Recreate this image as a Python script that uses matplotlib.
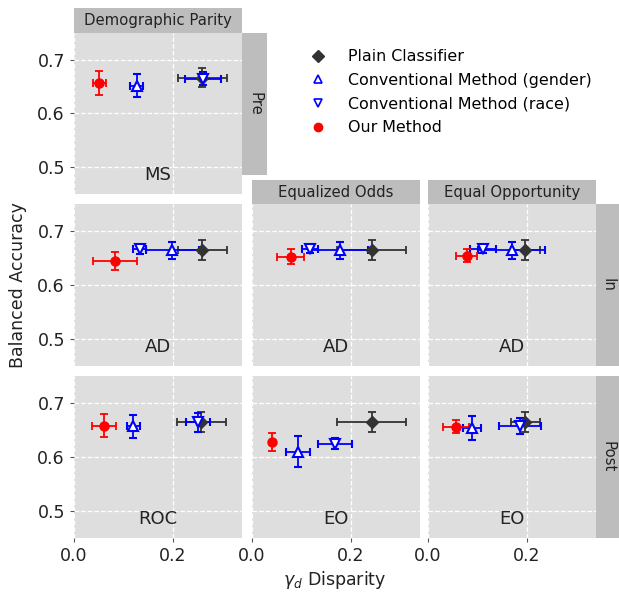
import numpy as np
import matplotlib
matplotlib.use('Agg')
import matplotlib.pyplot as plt
from matplotlib.lines import Line2D

W, H = 619, 598

# panels: (row, col, label)
panels = [(0, 0, 'MS'), (1, 0, 'AD'), (1, 1, 'AD'), (1, 2, 'AD'),
          (2, 0, 'ROC'), (2, 1, 'EO'), (2, 2, 'EO')]

# Plain Classifier
plain_x = [0.260, 0.260, 0.242, 0.197, 0.258, 0.242, 0.197]
plain_y = [0.667, 0.665, 0.665, 0.665, 0.665, 0.665, 0.665]
plain_xe = [0.050, 0.050, 0.070, 0.030, 0.050, 0.070, 0.030]
plain_ye = [0.018, 0.018, 0.018, 0.018, 0.019, 0.018, 0.019]

# Conventional Method (gender)
gen_x = [0.127, 0.199, 0.178, 0.169, 0.120, 0.093, 0.089]
gen_y = [0.652, 0.664, 0.664, 0.664, 0.657, 0.610, 0.654]
gen_xe = [0.013, 0.054, 0.057, 0.068, 0.013, 0.025, 0.019]
gen_ye = [0.022, 0.015, 0.015, 0.015, 0.021, 0.028, 0.022]

# Conventional Method (race)
race_x = [0.261, 0.133, 0.117, 0.111, 0.251, 0.168, 0.186]
race_y = [0.665, 0.666, 0.667, 0.667, 0.664, 0.625, 0.657]
race_xe = [0.037, 0.013, 0.016, 0.026, 0.024, 0.035, 0.042]
race_ye = [0.012, 0.008, 0.008, 0.008, 0.017, 0.010, 0.015]

# Our Method
our_x = [0.051, 0.083, 0.078, 0.078, 0.061, 0.041, 0.056]
our_y = [0.657, 0.644, 0.652, 0.654, 0.658, 0.628, 0.656]
our_xe = [0.013, 0.045, 0.027, 0.022, 0.025, 0.003, 0.026]
our_ye = [0.022, 0.017, 0.014, 0.012, 0.021, 0.017, 0.012]

col_x = [(74, 242), (252, 420), (428, 596)]
row_y = [(33, 194), (204, 366), (376, 538)]

BG = '#dedede'
STRIP = '#bdbdbd'


def box(x0, x1, y0, y1):
    return [x0 / W, 1 - y1 / H, (x1 - x0) / W, (y1 - y0) / H]


fig = plt.figure(figsize=(W / 100, H / 100), dpi=100)


def strip(x0, x1, y0, y1, text, rot=0):
    a = fig.add_axes(box(x0, x1, y0, y1))
    a.set_facecolor(STRIP)
    a.set_xticks([])
    a.set_yticks([])
    for s in a.spines.values():
        s.set_visible(False)
    a.text(0.5, 0.5, text, ha='center', va='center', rotation=rot,
           fontsize=10.7, color='#222222', transform=a.transAxes)


for i, (r, c, lab) in enumerate(panels):
    x0, x1 = col_x[c]
    y0, y1 = row_y[r]
    ax = fig.add_axes(box(x0, x1, y0, y1))
    ax.set_facecolor(BG)
    for s in ax.spines.values():
        s.set_visible(False)
    ax.set_xlim(0, 0.34)
    ax.set_ylim(0.45, 0.75)
    ax.set_xticks([0.0, 0.2])
    ax.set_yticks([0.5, 0.6, 0.7])
    ax.grid(True, color='white', linestyle='--', linewidth=0.9)
    ax.set_axisbelow(True)
    ax.tick_params(length=3, color='#555555', labelsize=12.5, labelcolor='#222222')
    if r != 2:
        ax.tick_params(axis='x', bottom=False, labelbottom=False)
    else:
        ax.set_xticklabels(['0.0', '0.2'])
    if c != 0:
        ax.tick_params(axis='y', left=False, labelleft=False)

    kw = dict(capsize=3, elinewidth=1.3, capthick=1.3, ms=6.5, linestyle='none')
    ax.errorbar(plain_x[i], plain_y[i], xerr=plain_xe[i], yerr=plain_ye[i],
                marker='D', color='#333333', **kw)
    ax.errorbar(gen_x[i], gen_y[i], xerr=gen_xe[i], yerr=gen_ye[i],
                marker='^', color='blue', mfc='white', mec='blue', mew=1.5, **kw)
    ax.errorbar(race_x[i], race_y[i], xerr=race_xe[i], yerr=race_ye[i],
                marker='v', color='blue', mfc='white', mec='blue', mew=1.5, **kw)
    ax.errorbar(our_x[i], our_y[i], xerr=our_xe[i], yerr=our_ye[i],
                marker='o', color='red', **kw)
    ax.text(0.17, 0.486, lab, ha='center', va='center', fontsize=13, color='#222222')

strip(74, 242, 8, 33, 'Demographic Parity')
strip(252, 420, 180, 204, 'Equalized Odds')
strip(428, 596, 180, 204, 'Equal Opportunity')
strip(242, 267, 33, 175, 'Pre', rot=-90)
strip(596, 620, 204, 366, 'In', rot=-90)
strip(596, 620, 376, 538, 'Post', rot=-90)

handles = [
    Line2D([], [], marker='D', color='#333333', linestyle='none', ms=6),
    Line2D([], [], marker='^', color='blue', mfc='white', mew=1.2, linestyle='none', ms=6),
    Line2D([], [], marker='v', color='blue', mfc='white', mew=1.2, linestyle='none', ms=6),
    Line2D([], [], marker='o', color='red', linestyle='none', ms=6),
]
labels = ['Plain Classifier', 'Conventional Method (gender)',
          'Conventional Method (race)', 'Our Method']
fig.legend(handles, labels, loc='upper left', bbox_to_anchor=(288 / W, 1 - 35 / H),
           frameon=False, fontsize=11.4, handletextpad=0.89, labelspacing=0.55)

fig.text(335 / W, 1 - 580 / H, r'$\gamma_d$ Disparity', ha='center', va='center',
         fontsize=12.5, color='#222222')
fig.text(18 / W, 1 - 285 / H, 'Balanced Accuracy', ha='center', va='center',
         rotation=90, fontsize=12.5, color='#222222')

fig.savefig('out.png', dpi=100)
